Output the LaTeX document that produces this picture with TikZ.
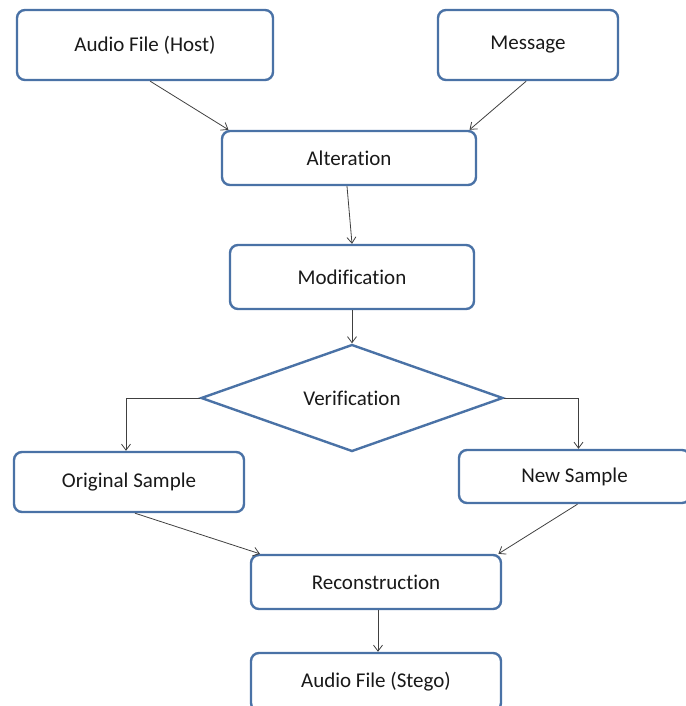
\documentclass[tikz,border=0pt]{standalone}
\usepackage{fontspec}
\setmainfont{Carlito}[Ligatures=NoCommon]
\usetikzlibrary{shapes.geometric,arrows.meta,calc}
\definecolor{bord}{HTML}{4A72A6}
\definecolor{arr}{HTML}{404040}
\tikzset{
  box/.style={draw=bord, line width=2.4pt, rounded corners=8pt, fill=white,
    inner sep=0pt, font=\fontsize{21}{25}\selectfont, text=black!90},
  dec/.style={draw=bord, line width=2.4pt, shape=diamond, aspect=2.8, fill=white,
    inner sep=0pt, font=\fontsize{21}{25}\selectfont, text=black!90},
  conn/.style={draw=arr, line width=0.8pt, -{Straight Barb[length=6pt,width=9pt]}}
}
\begin{document}
\begin{tikzpicture}[x=1pt,y=-1pt]
\useasboundingbox (0,0) rectangle (685,706);
\node[box, minimum width=256pt, minimum height=70pt] (host) at (145,45) {Audio File (Host)};
\node[box, minimum width=180pt, minimum height=70pt] (msg) at (528,45) {Message};
\node[box, minimum width=254pt, minimum height=54pt] (alt) at (349,158) {Alteration};
\node[box, minimum width=244pt, minimum height=64pt] (mod) at (352,277) {Modification};
\node[dec, minimum width=302pt, minimum height=107pt] (ver) at (352,398) {Verification};
\node[box, minimum width=230pt, minimum height=60pt] (orig) at (129,482) {Original Sample};
\node[box, minimum width=231pt, minimum height=53pt] (new) at (574.5,476.5) {New Sample};
\node[box, minimum width=250pt, minimum height=54pt] (rec) at (376,582) {Reconstruction};
\node[box, minimum width=250pt, minimum height=58pt] (steg) at (376,682) {Audio File (Stego)};

\draw[conn] ($(host.south west)!0.52!(host.south east)$) -- ($(alt.north west)!0.03!(alt.north east)$);
\draw[conn] ($(msg.south west)!0.49!(msg.south east)$) -- ($(alt.north west)!0.97!(alt.north east)$);
\draw[conn] ([xshift=-2pt]alt.south) -- (mod.north);
\draw[conn] (mod.south) -- (ver.north);
\draw[conn] (ver.west) -| ([xshift=-3pt]orig.north);
\draw[conn] (ver.east) -| ([xshift=4pt]new.north);
\draw[conn] ([xshift=6pt]orig.south) -- ($(rec.north west)!0.04!(rec.north east)$);
\draw[conn] ([xshift=3pt]new.south) -- ($(rec.north west)!0.985!(rec.north east)$);
\draw[conn] ([xshift=2pt]rec.south) -- ([xshift=2pt]steg.north);
\end{tikzpicture}
\end{document}
